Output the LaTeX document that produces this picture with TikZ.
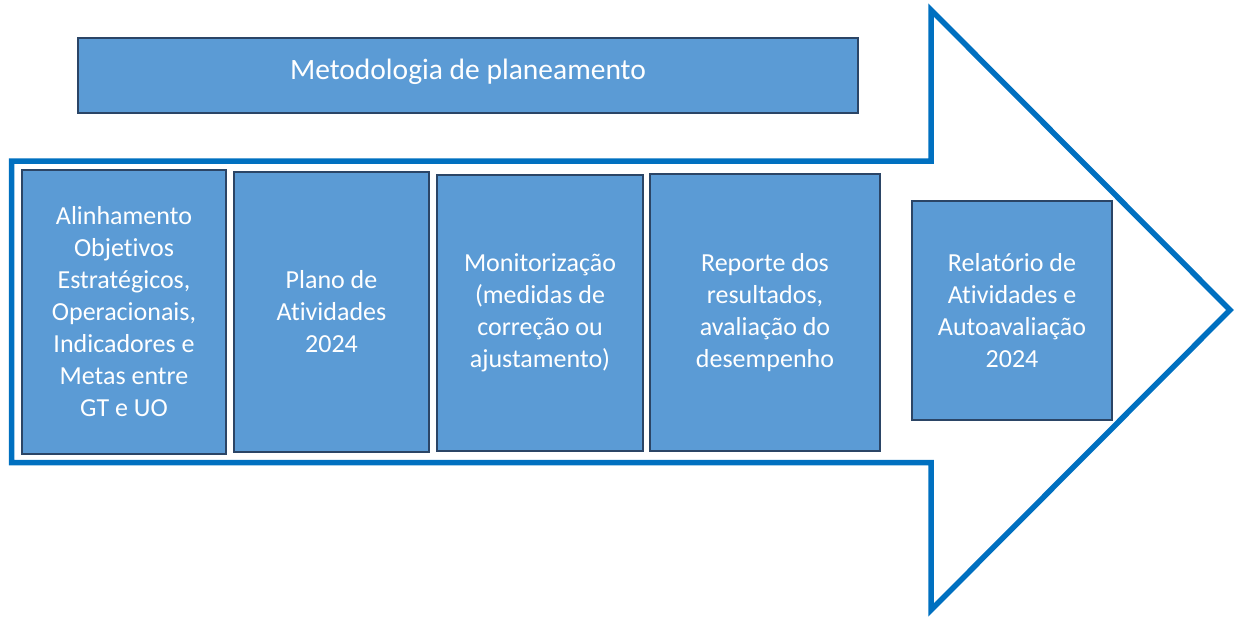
\documentclass[tikz,border=0pt]{standalone}
\usepackage{fontspec}
\setmainfont{Carlito}[Ligatures=NoCommon]
\definecolor{boxfill}{HTML}{5B9BD5}
\definecolor{boxline}{HTML}{2B4566}
\definecolor{arrowline}{HTML}{0070C0}
\begin{document}
\begin{tikzpicture}[x=1pt, y=-1pt,
        stage/.style = {rectangle, draw=boxline, line width=2pt, fill=boxfill, text=white,
            align=center, inner sep=0pt, font=\fontsize{26}{32}\selectfont}]
    \useasboundingbox (0,0) rectangle (1237,618);
    % big outline arrow
    \draw[arrowline, line width=5.5pt, line join=miter]
        (11.5,161) -- (931,161) -- (931,10) -- (1230,310) -- (931,610) -- (931,462.5) -- (11.5,462.5) -- cycle;
    \node[stage, minimum width=780pt, minimum height=75pt, font=\fontsize{29.5}{36}\selectfont,
        text height=12pt, text depth=4pt] (title) at (468,75.5) {Metodologia de planeamento};
    \node[stage, minimum width=204pt, minimum height=284pt] (1) at (124,312)
        {Alinhamento\\Objetivos\\Estratégicos,\\Operacionais,\\Indicadores e\\Metas entre\\GT e UO};
    \node[stage, minimum width=195pt, minimum height=280pt] (2) at (331.5,312)
        {Plano de\\Atividades\\2024};
    \node[stage, minimum width=206pt, minimum height=276pt] (3) at (540,313)
        {Monitorização\\(medidas de\\correção ou\\ajustamento)};
    \node[stage, minimum width=230pt, minimum height=277pt] (4) at (765,312.5)
        {Reporte dos\\resultados,\\avaliação do\\desempenho};
    \node[stage, minimum width=200pt, minimum height=219pt] (5) at (1012,310.5)
        {Relatório de\\Atividades e\\Autoavaliação\\2024};
\end{tikzpicture}
\end{document}
